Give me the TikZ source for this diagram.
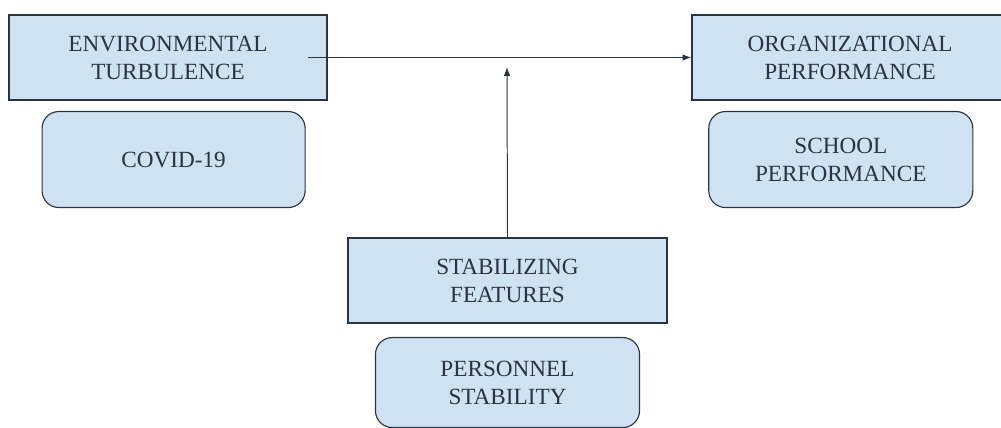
\documentclass[tikz,border=0pt]{standalone}
\usepackage{fontspec}
\setmainfont{Liberation Serif}
\usepackage{tikz}
\usetikzlibrary{positioning,arrows.meta}

\definecolor{boxblue}{HTML}{CFE2F3}
\definecolor{inkgray}{HTML}{2B3340}

\begin{document}
\begin{tikzpicture}[x=0.025cm,y=-0.025cm,node distance=2.55cm]
\tikzstyle{var}=[draw=inkgray,fill=boxblue,line width=0.8pt,align=center,text=inkgray,font=\fontsize{16.5}{20}\selectfont]
\tikzstyle{ex}=[var,rounded corners=0.42cm]
\tikzstyle{link}=[-{Latex[length=2.2mm,width=1.6mm]},line width=0.7pt,draw=inkgray]
\useasboundingbox (0,0) rectangle (1001,428);
\node [var,minimum width=7.95cm,minimum height=2.125cm] (et) at (168,57.5) {ENVIRONMENTAL\\TURBULENCE};
\node [var,minimum width=7.9cm,minimum height=2.125cm] (op) at (850,57.5) {ORGANIZATIONAL\\PERFORMANCE};
\node [var,minimum width=7.975cm,minimum height=2.125cm] (sf) at (507.5,280.5) {STABILIZING\\FEATURES};

\node [ex,below of=et,xshift=0.14cm,minimum width=6.575cm,minimum height=2.4cm] (cv) {COVID-19};
\node [ex,below of=op,xshift=-0.23cm,minimum width=6.6cm,minimum height=2.4cm] (sp) {SCHOOL\\PERFORMANCE};
\node [ex,below of=sf,minimum width=6.6cm,minimum height=2.25cm] (ps) {PERSONNEL\\STABILITY};

\coordinate (tip) at (507,67);
\draw [link] ([xshift=-0.5cm]et.east) -- (op.west);
\draw [link] (sf.north) -- (tip);
\end{tikzpicture}
\end{document}
